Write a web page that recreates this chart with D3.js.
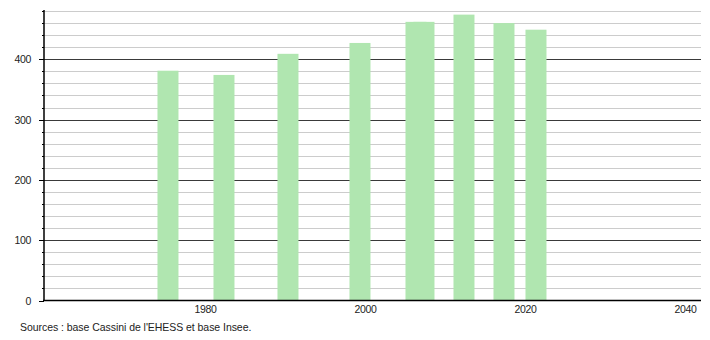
<!DOCTYPE html>
<html>
<head>
<meta charset="utf-8">
<script src="https://cdn.jsdelivr.net/npm/d3@7"></script>
<style>
  body { margin: 0; background: #fff; }
  text { font-family: "Liberation Sans", Arial, sans-serif; }
</style>
</head>
<body>
<svg id="chart"></svg>
<script>
// Census years and population
const years = [1975, 1982, 1990, 1999, 2006, 2007, 2012, 2017, 2021];
const population = [381, 374, 409, 427, 462, 462, 474, 460, 449];
const xTicks = [1980, 2000, 2020, 2040];
const yMajor = [0, 100, 200, 300, 400];
const yMinor = d3.range(20, 481, 20);
const source = "Sources : base Cassini de l'EHESS et base Insee.";

const width = 710;
const height = 340;

const svg = d3.select("#chart").attr("width", width).attr("height", height);

const x = d3.scaleLinear().domain([1959.44, 2041.69]).range([43, 701]);
const y = d3.scaleLinear().domain([0, 480]).range([300.5, 11]);
const barW = 21;

// minor grid lines
svg.append("g")
  .selectAll("line")
  .data(yMinor.filter((d) => d % 100 !== 0))
  .join("line")
  .attr("x1", x.range()[0])
  .attr("x2", x.range()[1])
  .attr("y1", (d) => Math.round(y(d)) + 0.5)
  .attr("y2", (d) => Math.round(y(d)) + 0.5)
  .attr("stroke", "#cccccc")
  .attr("stroke-width", 1);

// major grid lines
svg.append("g")
  .selectAll("line")
  .data(yMajor.filter((d) => d > 0))
  .join("line")
  .attr("x1", x.range()[0])
  .attr("x2", x.range()[1])
  .attr("y1", (d) => Math.round(y(d)) + 0.5)
  .attr("y2", (d) => Math.round(y(d)) + 0.5)
  .attr("stroke", "#3a3a3a")
  .attr("stroke-width", 1);

// bars
svg.append("g")
  .selectAll("rect")
  .data(years)
  .join("rect")
  .attr("x", (d) => x(d) - barW / 2 + 0.5)
  .attr("width", barW)
  .attr("y", (d, i) => y(population[i]))
  .attr("height", (d, i) => y(0) - y(population[i]))
  .attr("fill", "#b0e6b0");

// y axis
const yAxis = svg.append("g").attr("transform", "translate(44,0)");
yAxis.append("line")
  .attr("y1", y.range()[1] - 1)
  .attr("y2", y(0))
  .attr("stroke", "#000")
  .attr("stroke-width", 1.5);
yAxis.selectAll(".minor")
  .data(yMinor.filter((d) => d % 100 !== 0))
  .join("line")
  .attr("class", "minor")
  .attr("x1", -2)
  .attr("x2", 0)
  .attr("y1", (d) => Math.round(y(d)) + 0.5)
  .attr("y2", (d) => Math.round(y(d)) + 0.5)
  .attr("stroke", "#000");
yAxis.selectAll(".major")
  .data(yMajor)
  .join("line")
  .attr("class", "major")
  .attr("x1", -5)
  .attr("x2", 0)
  .attr("y1", (d) => Math.round(y(d)) + 0.5)
  .attr("y2", (d) => Math.round(y(d)) + 0.5)
  .attr("stroke", "#000");
yAxis.selectAll("text")
  .data(yMajor)
  .join("text")
  .attr("x", -13)
  .attr("y", (d) => y(d) + 4)
  .attr("text-anchor", "end")
  .attr("font-size", 10.5)
  .attr("letter-spacing", -0.3)
  .attr("fill", "#222")
  .text((d) => d);

// x axis
svg.append("line")
  .attr("x1", x.range()[0])
  .attr("x2", x.range()[1])
  .attr("y1", y(0))
  .attr("y2", y(0))
  .attr("stroke", "#000")
  .attr("stroke-width", 1.5);
svg.append("g")
  .selectAll("text")
  .data(xTicks)
  .join("text")
  .attr("x", (d) => x(d) - 2)
  .attr("y", 313)
  .attr("text-anchor", "middle")
  .attr("font-size", 10.5)
  .attr("letter-spacing", -0.3)
  .attr("fill", "#222")
  .text((d) => d);

svg.append("text")
  .attr("x", 20)
  .attr("y", 331)
  .attr("font-size", 10.5)
  .attr("letter-spacing", -0.05)
  .attr("fill", "#222")
  .text(source);
</script>
</body>
</html>
